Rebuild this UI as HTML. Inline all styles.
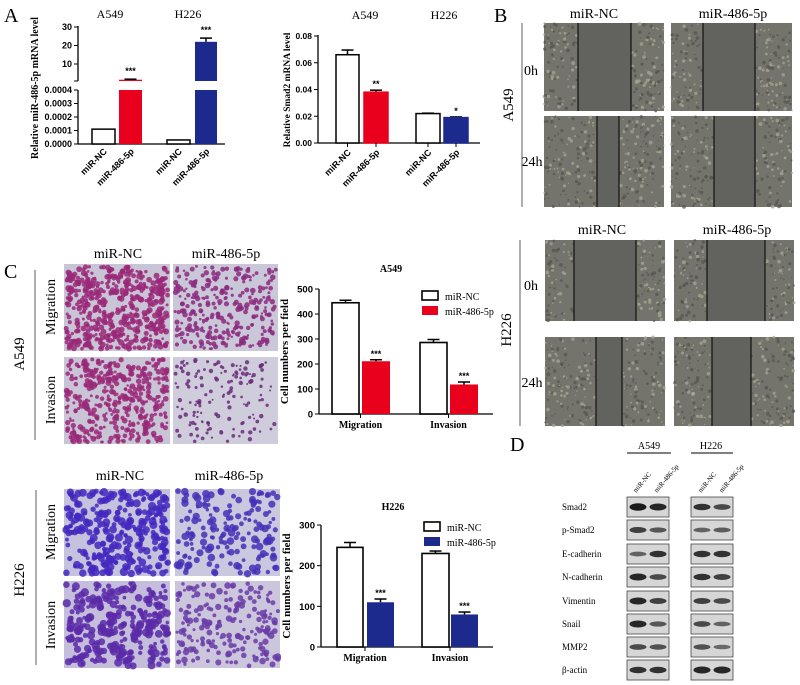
<!DOCTYPE html>
<html><head><meta charset="utf-8"><style>
html,body{margin:0;padding:0;background:#fff;}
svg{display:block;}
.ser{font-family:"Liberation Serif",serif;}
.sans{font-family:"Liberation Sans",sans-serif;}
</style></head><body>
<svg id="fig" width="800" height="685" viewBox="0 0 800 685" xmlns="http://www.w3.org/2000/svg">
<g class="ser" font-size="20">
<text x="4" y="22">A</text>
<text x="494" y="22">B</text>
<text x="4" y="278">C</text>
<text x="510" y="451">D</text>
</g>
<g id="charts"></g>
<g id="images"></g>
<g id="blots"></g>
</svg>
<script>
// ---------- Chart data ----------
const c1Cats = ["miR-NC","miR-486-5p","miR-NC","miR-486-5p"];
const c1Vals = [0.00011, 1.5, 0.00003, 22];
const c1Errs = [0, 0.3, 0, 2];
const c1UpperTicks = [10, 20, 30];
const c1LowerTicks = ["0.0000","0.0001","0.0002","0.0003","0.0004"];

const c2Cats = ["miR-NC","miR-486-5p","miR-NC","miR-486-5p"];
const c2Vals = [0.066, 0.038, 0.022, 0.019];
const c2Errs = [0.0035, 0.0015, 0.0003, 0.0005];
const c2Ticks = ["0.00","0.02","0.04","0.06","0.08"];
const c2Stars = ["", "**", "", "*"];

const c3Groups = ["Migration","Invasion"];
const c3NC = [445, 286];
const c3NCErr = [10, 12];
const c3Tr = [211, 118];
const c3TrErr = [6, 10];
const c3Ticks = [0,100,200,300,400,500];

const c4Groups = ["Migration","Invasion"];
const c4NC = [245, 230];
const c4NCErr = [12, 6];
const c4Tr = [110, 80];
const c4TrErr = [8, 6];
const c4Ticks = [0,100,200,300];

const NS="http://www.w3.org/2000/svg";
function mk(tag, attrs, parent, txt){
  const e=document.createElementNS(NS,tag);
  for(const k in attrs) e.setAttribute(k,attrs[k]);
  if(txt!==undefined) e.textContent=txt;
  parent.appendChild(e); return e;
}
const charts=document.getElementById('charts');
const RED="#e8001c", BLUE="#1c2a8e";

function errBar(g,cx,yTop,yErr){
  mk('line',{x1:cx,x2:cx,y1:yTop,y2:yErr,stroke:'#000','stroke-width':1.5},g);
  mk('line',{x1:cx-6,x2:cx+6,y1:yErr,y2:yErr,stroke:'#000','stroke-width':1.5},g);
}
function rotLabel(g,x,y,t,size){
  return mk('text',{x:x,y:y,'font-size':size||9,'font-weight':'bold','text-anchor':'end',transform:`rotate(-45 ${x} ${y})`,'class':'sans'},g,t);
}

// ---------- Chart 1 (broken axis) ----------
(function(){
  const g=mk('g',{},charts);
  
  
  const ax=78, yU=v=>82.5-v*1.85, yL=v=>144-v*135000;
  const xs=[[92,115],[119,142],[167,190],[195,217]];
  mk('line',{x1:ax,x2:ax,y1:26,y2:81,stroke:'#000','stroke-width':1.3},g);
  mk('line',{x1:ax,x2:ax,y1:90,y2:144,stroke:'#000','stroke-width':1.3},g);
  mk('line',{x1:ax,x2:225,y1:144,y2:144,stroke:'#000','stroke-width':1.3},g);
  c1UpperTicks.forEach(v=>{
    const y=yU(v);
    mk('line',{x1:ax-4,x2:ax,y1:y,y2:y,stroke:'#000'},g);
    const t=mk('text',{x:ax-6,y:y+3,'font-size':9,'font-weight':'bold','text-anchor':'end','class':'sans'},g,String(v));
    
    
  });
  mk('line',{x1:ax-4,x2:ax,y1:81,y2:81,stroke:'#000'},g);
  c1LowerTicks.forEach(s=>{
    const y=yL(parseFloat(s));
    mk('line',{x1:ax-4,x2:ax,y1:y,y2:y,stroke:'#000'},g);
    const t=mk('text',{x:ax-6,y:y+3,'font-size':9,'font-weight':'bold','text-anchor':'end','class':'sans'},g,s);
    
    
  });
  c1Vals.forEach((v,i)=>{
    const [x0,x1]=xs[i]; const fill=i===0||i===2?'#fff':(i===1?RED:BLUE);
    let b;
    if(v<=0.0004){
      b=mk('rect',{x:x0,y:yL(v),width:x1-x0,height:144-yL(v),fill:fill,stroke:'#000','stroke-width':1.5},g);
    } else {
      b=mk('rect',{x:x0,y:90,width:x1-x0,height:54,fill:fill},g);
      const top=mk('rect',{x:x0,y:yU(v),width:x1-x0,height:81-yU(v),fill:fill},g);
      
      
      if(c1Errs[i]) errBar(g,(x0+x1)/2,yU(v),yU(v+c1Errs[i]));
      mk('text',{x:(x0+x1)/2,y:yU(v+c1Errs[i])-5,'font-size':9,'font-weight':'bold','text-anchor':'middle','class':'sans'},g,'***');
    }
    
    
    rotLabel(g,(x0+x1)/2+4,152,c1Cats[i]);
  });
  mk('text',{x:110,y:18,'font-size':12,'text-anchor':'middle','class':'ser'},g,'A549');
  mk('text',{x:188,y:18,'font-size':12,'text-anchor':'middle','class':'ser'},g,'H226');
  const yt=mk('text',{x:38,y:88,'font-size':10,'font-weight':'bold','text-anchor':'middle','class':'ser',transform:'rotate(-90 38 88)'},g,'Relative miR-486-5p mRNA level');
  
  
})();

// ---------- Chart 2 ----------
(function(){
  const g=mk('g',{},charts);
  
  
  const ax=318, y=v=>143-v*1337.5;
  const xs=[[336,359],[364,388],[416,440],[444,468]];
  mk('line',{x1:ax,x2:ax,y1:35,y2:143,stroke:'#000','stroke-width':1.3},g);
  mk('line',{x1:ax,x2:480,y1:143,y2:143,stroke:'#000','stroke-width':1.3},g);
  c2Ticks.forEach(s=>{
    const yy=y(parseFloat(s));
    mk('line',{x1:ax-4,x2:ax,y1:yy,y2:yy,stroke:'#000'},g);
    const t=mk('text',{x:ax-6,y:yy+3,'font-size':8.5,'font-weight':'bold','text-anchor':'end','class':'sans'},g,s);
    
    
  });
  c2Vals.forEach((v,i)=>{
    const [x0,x1]=xs[i]; const fill=i%2===0?'#fff':(i===1?RED:BLUE);
    const cx=(x0+x1)/2;
    if(c2Errs[i]) errBar(g,cx,y(v),y(v+c2Errs[i]));
    const b=mk('rect',{x:x0,y:y(v),width:x1-x0,height:143-y(v),fill:fill,stroke:i%2===0?'#000':fill,'stroke-width':1.5},g);
    
    
    if(c2Stars[i]) mk('text',{x:cx,y:y(v+c2Errs[i])-3,'font-size':9,'font-weight':'bold','text-anchor':'middle','class':'sans'},g,c2Stars[i]);
    mk('line',{x1:cx,x2:cx,y1:143,y2:147,stroke:'#000'},g);
    rotLabel(g,cx+4,153,c2Cats[i]);
  });
  mk('text',{x:365,y:19,'font-size':12,'text-anchor':'middle','class':'ser'},g,'A549');
  mk('text',{x:444,y:19,'font-size':12,'text-anchor':'middle','class':'ser'},g,'H226');
  const yt=mk('text',{x:290,y:90,'font-size':9.5,'font-weight':'bold','text-anchor':'middle','class':'ser',transform:'rotate(-90 290 90)'},g,'Relative Smad2 mRNA level');
  
  
})();

// ---------- Grouped charts (C) ----------
function grouped(name,title,titleY,ax,y0,yTop,maxV,ticks,groups,nc,ncE,tr,trE,bx,color,legY){
  const g=mk('g',{},charts);
  
  
  const y=v=>y0-v*(y0-yTop)/maxV;
  mk('line',{x1:ax,x2:ax,y1:yTop,y2:y0,stroke:'#000','stroke-width':1.3},g);
  mk('line',{x1:ax,x2:493,y1:y0,y2:y0,stroke:'#000','stroke-width':1.3},g);
  ticks.forEach(v=>{
    const yy=y(v);
    mk('line',{x1:ax-4,x2:ax,y1:yy,y2:yy,stroke:'#000'},g);
    const t=mk('text',{x:ax-6,y:yy+3.5,'font-size':9.5,'font-weight':'bold','text-anchor':'end','class':'sans'},g,String(v));
    
    
  });
  groups.forEach((gn,i)=>{
    const [a,b,c,d]=bx[i];
    errBar(g,(a+b)/2,y(nc[i]),y(nc[i]+ncE[i]));
    errBar(g,(c+d)/2,y(tr[i]),y(tr[i]+trE[i]));
    const r1=mk('rect',{x:a,y:y(nc[i]),width:b-a,height:y0-y(nc[i]),fill:'#fff',stroke:'#000','stroke-width':1.6},g);
    
    
    const r2=mk('rect',{x:c,y:y(tr[i]),width:d-c,height:y0-y(tr[i]),fill:color},g);
    
    
    mk('text',{x:(c+d)/2,y:y(tr[i]+trE[i])-3,'font-size':9,'font-weight':'bold','text-anchor':'middle','class':'sans'},g,'***');
    mk('line',{x1:(b+c)/2,x2:(b+c)/2,y1:y0,y2:y0+4,stroke:'#000'},g);
    const xl=mk('text',{x:(b+c)/2,y:y0+14,'font-size':10,'font-weight':'bold','text-anchor':'middle','class':'ser'},g,gn);
    
    
  });
  mk('text',{x:ax+72,y:titleY,'font-size':10,'font-weight':'bold','text-anchor':'middle','class':'ser'},g,title);
  const yt=mk('text',{x:ax-31,y:(y0+yTop)/2,'font-size':11,'font-weight':'bold','text-anchor':'middle','class':'ser',transform:`rotate(-90 ${ax-31} ${(y0+yTop)/2})`},g,'Cell numbers per field');
  
  
  const lg=mk('g',{},g);
  
  
  mk('rect',{x:ax+103,y:legY-5,width:16,height:9,fill:'#fff',stroke:'#000','stroke-width':1.6},lg);
  mk('text',{x:ax+126,y:legY+4,'font-size':10,'class':'ser'},lg,'miR-NC');
  mk('rect',{x:ax+103,y:legY+10,width:16,height:9,fill:color},lg);
  mk('text',{x:ax+126,y:legY+19,'font-size':10,'class':'ser'},lg,'miR-486-5p');
}
grouped('a549-transwell-chart','A549',272,319,414,289,500,c3Ticks,c3Groups,c3NC,c3NCErr,c3Tr,c3TrErr,
  [[332,359,362,390],[420,447,450,478]],RED,296);
grouped('h226-transwell-chart','H226',510,321,647,525,300,c4Ticks,c4Groups,c4NC,c4NCErr,c4Tr,c4TrErr,
  [[337,363,367,394],[422,449,451,478]],BLUE,527);

// ---------- Micrographs (decorative texture) ----------
const imgs=document.getElementById('images');
let seed=7; function rnd(){seed=(seed*16807)%2147483647;return seed/2147483647;}
function scratch(name,x,y,w,h,l1,l2){
  const g=mk('g',{},imgs);
  
  
  mk('rect',{x:x,y:y,width:w,height:h,fill:'#74746c'},g);
  mk('rect',{x:l1,y:y,width:l2-l1,height:h,fill:'#62625f'},g);
  for(let i=0;i<320;i++){
    const px=x+rnd()*w, py=y+rnd()*h;
    if(px>l1-1&&px<l2+1) continue;
    mk('circle',{cx:px,cy:py,r:0.6+rnd()*1.3,fill:rnd()<0.45?'#a9a592':'#55554f',opacity:0.75},g);
  }
  mk('line',{x1:l1,x2:l1,y1:y,y2:y+h,stroke:'#111','stroke-width':1.2},g);
  mk('line',{x1:l2,x2:l2,y1:y,y2:y+h,stroke:'#111','stroke-width':1.2},g);
}
function transwell(name,x,y,w,h,bg,dot,n,r){
  const g=mk('g',{},imgs);
  
  
  mk('rect',{x:x,y:y,width:w,height:h,fill:bg},g);
  for(let i=0;i<n;i++){
    mk('circle',{cx:x+2+rnd()*(w-4),cy:y+2+rnd()*(h-4),r:r*(0.6+rnd()*0.8),fill:dot,opacity:0.85},g);
  }
}
scratch('a549-nc-0h',544,23,120,88,578,631);
scratch('a549-486-0h',671,23,121,88,703,755);
scratch('a549-nc-24h',544,116,120,91,597,619);
scratch('a549-486-24h',671,116,121,91,714,755);
scratch('h226-nc-0h',545,240,120,81,574,636);
scratch('h226-486-0h',674,240,120,81,707,765);
scratch('h226-nc-24h',545,337,120,89,596,622);
scratch('h226-486-24h',674,337,120,89,712,751);
transwell('a549-nc-migration',64,264,106,87,'#c9c5d6','#9a2878',520,2.2);
transwell('a549-486-migration',173,264,105,87,'#cac8d8','#8c2a80',300,2.0);
transwell('a549-nc-invasion',64,357,106,87,'#c9c5d6','#9a2878',430,2.1);
transwell('a549-486-invasion',173,357,105,87,'#cfcddb','#6a2a7a',150,1.6);
transwell('h226-nc-migration',64,489,106,87,'#c4c2dc','#4428c0',300,3.0);
transwell('h226-486-migration',175,489,105,87,'#cac8de','#4630b8',170,2.8);
transwell('h226-nc-invasion',64,581,106,87,'#c4bedc','#5a2aa8',280,3.0);
transwell('h226-486-invasion',175,581,105,87,'#cbc6dc','#6a3ca8',200,2.4);

(function(){
  const g=mk('g',{'class':'ser'},imgs);
  const T=(x,y,s,t,rot,nm)=>{const e=mk('text',{x:x,y:y,'font-size':s,'text-anchor':'middle',transform:rot?`rotate(-90 ${x} ${y})`:''},g,t);
    
    };
  T(594,18,14,'miR-NC',0,'col-header-mir-nc');T(733,18,14,'miR-486-5p',0,'col-header-mir-486');
  T(602,234,14,'miR-NC',0,'col-header-mir-nc');T(737,234,14,'miR-486-5p',0,'col-header-mir-486');
  T(531,75,14,'0h',0,'row-label-0h');T(532,166,14,'24h',0,'row-label-24h');
  T(531,290,14,'0h',0,'row-label-0h');T(532,387,14,'24h',0,'row-label-24h');
  T(513,105,15,'A549',1,'cell-line-label');T(511,330,15,'H226',1,'cell-line-label');
  mk('line',{x1:522,x2:522,y1:23,y2:207,stroke:'#777','stroke-width':1.2},g);
  mk('line',{x1:520,x2:520,y1:240,y2:426,stroke:'#777','stroke-width':1.2},g);
  T(118,258,14,'miR-NC',0,'col-header-mir-nc');T(226,258,14,'miR-486-5p',0,'col-header-mir-486');
  T(120,480,14,'miR-NC',0,'col-header-mir-nc');T(229,480,14,'miR-486-5p',0,'col-header-mir-486');
  T(55,307,14,'Migration',1,'row-label-migration');T(55,400,14,'Invasion',1,'row-label-invasion');
  T(55,532,14,'Migration',1,'row-label-migration');T(55,625,14,'Invasion',1,'row-label-invasion');
  T(24,354,15,'A549',1,'cell-line-label');T(24,580,15,'H226',1,'cell-line-label');
  mk('line',{x1:35,x2:35,y1:270,y2:440,stroke:'#777','stroke-width':1.2},g);
  mk('line',{x1:36,x2:36,y1:490,y2:665,stroke:'#777','stroke-width':1.2},g);
})();

// ---------- Western blots ----------
(function(){
  const g=document.getElementById('blots');
  const rows=["Smad2","p-Smad2","E-cadherin","N-cadherin","Vimentin","Snail","MMP2","β-actin"];
  const ys=[507,530,554,577,601,624,647,670];
  const leftI=[[1,0.9],[0.7,0.5],[0.4,0.8],[0.9,0.6],[0.9,0.7],[0.9,0.5],[0.6,0.55],[0.8,0.8]];
  const rightI=[[0.8,0.6],[0.4,0.45],[0.8,0.8],[0.8,0.7],[0.7,0.6],[0.6,0.4],[0.55,0.35],[0.9,0.9]];
  const lab=mk('g',{'class':'ser'},g);
  mk('text',{x:649,y:449,'font-size':10,'text-anchor':'middle'},lab,'A549');
  mk('text',{x:711,y:449,'font-size':10,'text-anchor':'middle'},lab,'H226');
  mk('line',{x1:627,x2:671,y1:453,y2:453,stroke:'#000'},lab);
  mk('line',{x1:691,x2:733,y1:453,y2:453,stroke:'#000'},lab);
  [[636,'miR-NC'],[657,'miR-486-5p'],[701,'miR-NC'],[722,'miR-486-5p']].forEach(([x,t])=>{
    mk('text',{x:x,y:493,'font-size':7,transform:`rotate(-50 ${x} 493)`},lab,t);
  });
  rows.forEach((r,i)=>{
    const t=mk('text',{x:562,y:ys[i]+3,'font-size':9},lab,r);
    
    
    [[627,leftI[i]],[691,rightI[i]]].forEach(([bx,I])=>{
      const bg=mk('g',{},g);
      
      
      mk('rect',{x:bx,y:ys[i]-10,width:42,height:20,fill:'#d6d6d6',stroke:'#444','stroke-width':0.8},bg);
      [0,1].forEach(k=>{
        mk('ellipse',{cx:bx+11+k*20,cy:ys[i],rx:8.5,ry:1.5+2.2*I[k],fill:'#111',opacity:0.35+0.6*I[k]},bg);
      });
    });
  });
})();
</script>
</body></html>
